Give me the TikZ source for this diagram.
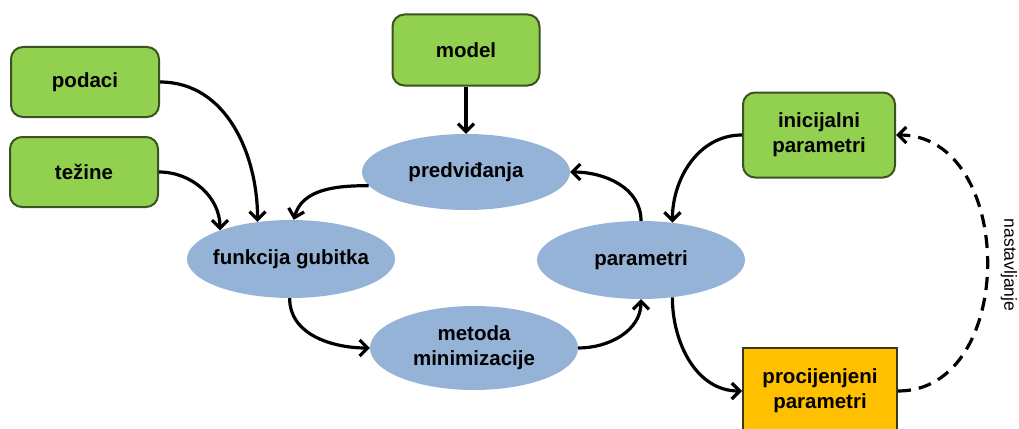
\documentclass[tikz,border=0pt]{standalone}
\usepackage{fontspec}
\setmainfont{Liberation Sans}
\usetikzlibrary{arrows.meta,shapes.geometric}
\definecolor{boxgreen}{HTML}{92D050}
\definecolor{boxgreenline}{HTML}{3B5320}
\definecolor{ovalblue}{HTML}{95B3D7}
\definecolor{boxorange}{HTML}{FFC000}
\definecolor{boxorangeline}{HTML}{3A3A1A}
\tikzset{
  inbox/.style={draw=boxgreenline, line width=2pt, fill=boxgreen, rounded corners=12pt,
    minimum width=148pt, minimum height=70pt, align=center,
    font=\fontsize{20.5}{25}\selectfont\bfseries},
  outbox/.style={draw=boxorangeline, line width=2pt, fill=boxorange,
    minimum width=154pt, minimum height=86pt, align=center,
    font=\fontsize{20.5}{25}\selectfont\bfseries},
  oval/.style={ellipse, fill=ovalblue, minimum width=208pt, minimum height=76pt,
    inner sep=0pt, align=center, font=\fontsize{20.5}{25}\selectfont\bfseries},
  flow/.style={line width=3.2pt, -{Straight Barb[length=8pt,width=16pt,line width=3.2pt]}},
  back/.style={flow, dash pattern=on 13pt off 8pt},
}
\begin{document}
\begin{tikzpicture}[x=1pt,y=-1pt]
  \clip (0,0) rectangle (1019,428);
  \useasboundingbox (0,0) rectangle (1019,428);

  % input boxes
  \node[inbox] (pod) at (85,82) {podaci};
  \node[inbox] (tez) at (84,172) {težine};
  \node[inbox, minimum width=147pt, minimum height=71pt] (mod) at (466,50) {model};
  \node[inbox, minimum width=152pt, minimum height=85pt] (ini) at (819,135) {inicijalni\\parametri};
  \node[outbox] (pro) at (820,391) {procijenjeni\\parametri};

  % processing steps (the wide label is boxed at zero width so the oval keeps its size)
  \node[oval] (pre) at (466,172) {predviđanja};
  \node[oval, minimum height=78pt] (fun) at (291,259) {\makebox[0pt]{funkcija gubitka}};
  \node[oval, minimum height=84pt] (met) at (474,348) {metoda\\minimizacije};
  \node[oval, minimum height=78pt] (par) at (641,260) {parametri};

  % connectors
  \draw[flow] (pod.east) to[out=0,in=90] (fun.132);
  \draw[flow] (tez.east) to[out=0,in=90] (fun.158);
  \draw[flow] (pre.188) to[out=180,in=75] (fun.86);
  \draw[flow] (mod.south) -- (pre.north);
  \draw[flow] (par.north) to[out=90,in=0] (pre.east);
  \draw[flow] (fun.268) to[out=-90,in=180] (met.west);
  \draw[flow] (met.east) to[out=0,in=-90] (par.south);
  \draw[flow] (ini.west) to[out=180,in=90] (par.50);
  \draw[flow] (par.-50) to[out=-90,in=180] (pro.west);
  \draw[back] (pro.east) to[out=0,in=0,looseness=1.2] (ini.east);

  % label of the dashed loop
  \node[rotate=-90, inner sep=0pt, font=\fontsize{17.5}{20}\selectfont] (lab) at (1009,265) {nastavljanje};
\end{tikzpicture}
\end{document}
